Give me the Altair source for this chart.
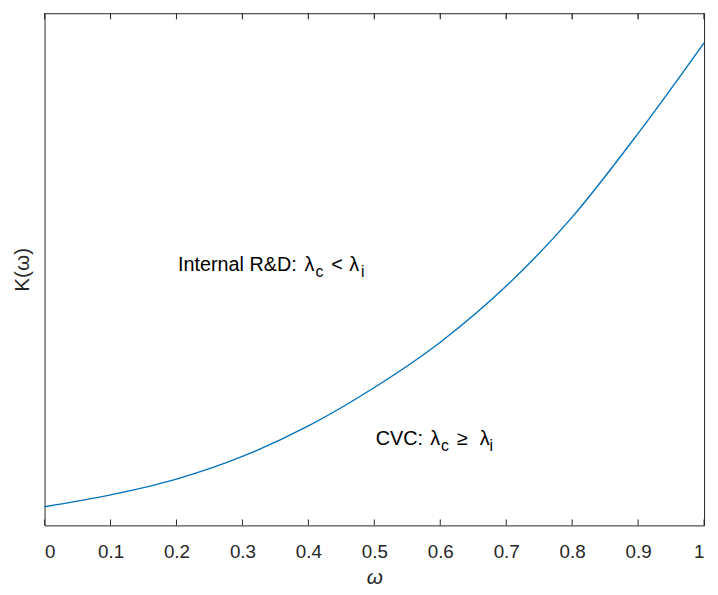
import altair as alt
import pandas as pd

# Data (K in units of the y-axis range 0..1)
omega = [0.0, 0.1, 0.2, 0.3, 0.4, 0.5, 0.6, 0.7, 0.8, 0.9, 1.0]
K = [0.0365, 0.0596, 0.0904, 0.1346, 0.1942, 0.2692, 0.3577, 0.4673, 0.6019, 0.7654, 0.9423]
x_ticks = [0.0, 0.1, 0.2, 0.3, 0.4, 0.5, 0.6, 0.7, 0.8, 0.9, 1.0]

df = pd.DataFrame({"omega": omega, "K": K})
ticks_df = pd.DataFrame({"t": x_ticks})

AX = "#262626"
FONT = "Liberation Sans"
LINE = "#0072BD"
H = 518
TL = 6.0 / H  # tick length in y-domain units

xs = alt.Scale(domain=[0, 1], nice=False, zero=False)
ys = alt.Scale(domain=[0, 1], nice=False, zero=False)

x_bottom = alt.X(
    "omega:Q", scale=xs, title="ω",
    axis=alt.Axis(orient="bottom", values=x_ticks, format=".1~f", grid=False, domain=False,
                  ticks=False, labelFont=FONT, labelFontSize=19, labelColor=AX,
                  labelPadding=17, titleFont=FONT, titleFontSize=21,
                  titleFontStyle="italic", titleFontWeight="normal", titleColor=AX,
                  titlePadding=6),
)
y_left = alt.Y(
    "K:Q", scale=ys, title="K(ω)",
    axis=alt.Axis(orient="left", labels=False, ticks=False, domain=False, grid=False,
                  titleFont=FONT, titleFontSize=21, titleFontWeight="normal",
                  titleColor=AX, titlePadding=12),
)

line = alt.Chart(df).mark_line(color=LINE, strokeWidth=1.4, interpolate="monotone").encode(
    x=x_bottom, y=y_left
)

tick_bot = alt.Chart(ticks_df).mark_rule(color=AX, strokeWidth=1).encode(
    x=alt.X("t:Q", scale=xs, axis=None),
    y=alt.datum(0.0, scale=ys, axis=None),
    y2=alt.datum(TL),
)

# ticks on the top edge, mirrored from the bottom ones
tick_top = alt.Chart(ticks_df).mark_rule(color=AX, strokeWidth=1).encode(
    x=alt.X("t:Q", scale=xs, axis=None),
    y=alt.datum(1.0 - TL, scale=ys, axis=None),
    y2=alt.datum(1.0),
)
tick_top2 = alt.Chart(ticks_df).mark_tick(
    color=AX, orient="vertical", size=6, thickness=1
).encode(
    x=alt.X("t:Q", scale=xs, axis=None),
    y=alt.datum(1.0 - TL / 2, scale=ys, axis=None),
)

# Annotation segments: (text, x in ω units, y in K units)
main_text = ["Internal R&D:", "λ", "<", "λ", "CVC:", "λ", "≥", "λ"]
main_x = [0.2024, 0.3943, 0.4348, 0.4618, 0.5022, 0.5847, 0.6252, 0.6597]
main_y = [0.4961, 0.4961, 0.4961, 0.4961, 0.1564, 0.1564, 0.1564, 0.1564]
sub_text = ["c", "i", "c", "i"]
sub_x = [0.4108, 0.4798, 0.6012, 0.6747]
sub_y = [0.4961, 0.4961, 0.1564, 0.1564]

main_df = pd.DataFrame({"text": main_text, "x": main_x, "y": main_y})
sub_df = pd.DataFrame({"text": sub_text, "x": sub_x, "y": sub_y})

main_lbl = alt.Chart(main_df).mark_text(
    align="left", baseline="alphabetic", font=FONT, fontSize=20, color="#000000"
).encode(x=alt.X("x:Q", scale=xs, axis=None), y=alt.Y("y:Q", scale=ys, axis=None), text="text:N")

sub_lbl = alt.Chart(sub_df).mark_text(
    align="left", baseline="alphabetic", font=FONT, fontSize=16, color="#000000", dy=6
).encode(x=alt.X("x:Q", scale=xs, axis=None), y=alt.Y("y:Q", scale=ys, axis=None), text="text:N")

chart = alt.layer(line, tick_bot, tick_top, tick_top2, main_lbl, sub_lbl).resolve_axis(
    x="independent", y="independent"
).properties(
    width=667, height=H,
    background="white",
    autosize=alt.AutoSizeParams(type="none"),
    padding={"left": 37, "top": 2, "right": 6, "bottom": 57},
).configure_view(stroke=AX, strokeWidth=1)

chart.save("out.html", embed_options={"renderer": "svg", "actions": False})
